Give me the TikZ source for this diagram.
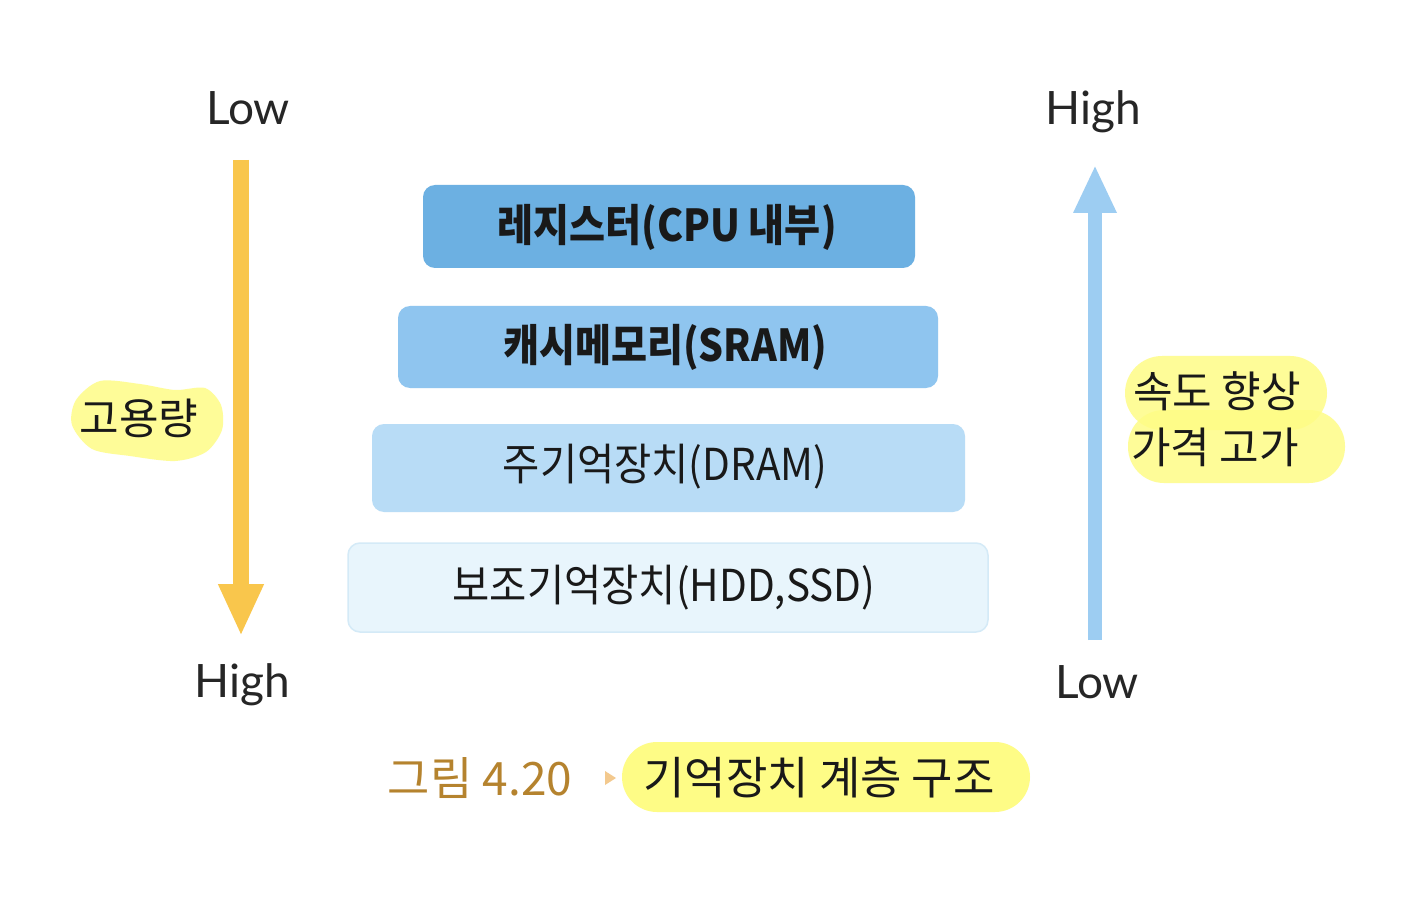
\documentclass[tikz,border=0pt]{standalone}
\usepackage{fontspec}
\usepackage{graphicx}
\usetikzlibrary{arrows.meta}
\newfontfamily\kr{Noto Sans CJK KR}
\newfontfamily\lat{Lato}
\definecolor{boxA}{HTML}{6CB0E2}
\definecolor{boxB}{HTML}{8FC5EF}
\definecolor{boxC}{HTML}{B8DCF6}
\definecolor{boxD}{HTML}{E8F5FC}
\definecolor{boxDline}{HTML}{D4EAF7}
\definecolor{arrowOr}{HTML}{F9C64C}
\definecolor{arrowBl}{HTML}{9DCDF2}
\definecolor{hilite}{HTML}{FEFC86}
\definecolor{capbrown}{HTML}{B5832E}
\definecolor{captri}{HTML}{F3C98E}
\tikzset{
  tier/.style={rounded corners=12pt, inner sep=0pt},
  tiertext/.style={font=\kr\fontsize{44}{50}\selectfont, text=black!90, inner sep=0pt},
  endlabel/.style={font=\lat\fontsize{46}{54}\selectfont, text=black!85, inner sep=0pt, anchor=base},
  hltext/.style={font=\kr\fontsize{43}{50}\selectfont, text=black!90, inner sep=0pt},
  pill/.style={fill=hilite, opacity=0.85},
}
\begin{document}
\begin{tikzpicture}[x=1pt,y=-1pt]
\useasboundingbox (0,0) rectangle (1414,901);
\fill[white] (0,0) rectangle (1414,901);

% tiers
\fill[boxA, tier] (423,185) rectangle (915,268);
\fill[boxB, tier] (398,306) rectangle (938,388);
\fill[boxC, tier] (372,424) rectangle (965,512);
\filldraw[fill=boxD, draw=boxDline, line width=1.5pt, tier] (348,543) rectangle (988,632);

\node[tiertext] (t1) at (667,227) {\scalebox{0.89}[1]{\bfseries 레지스터(CPU 내부)}};
\node[tiertext] (t2) at (665,347) {\scalebox{0.89}[1]{\bfseries 캐시메모리(SRAM)}};
\node[tiertext] (t3) at (665,467) {\scalebox{0.92}[1]{주기억장치(DRAM)}};
\node[tiertext] (t4) at (664,588) {\scalebox{0.92}[1]{보조기억장치(HDD,SSD)}};

% end labels
\node[endlabel] (lowL) at (248,125) {Low};
\node[endlabel] (highL) at (242,697) {High};
\node[endlabel] (highR) at (1093,125) {High};
\node[endlabel] (lowR) at (1097,698) {Low};

% arrows
\coordinate (aLs) at (241,160);
\coordinate (aLe) at (241,636);
\coordinate (aRs) at (1095,640);
\coordinate (aRe) at (1095,165);
\draw[arrowOr, line width=16pt, -{Triangle[width=42pt,length=52pt]}] (aLs) -- (aLe);
\draw[arrowBl, line width=14pt, -{Triangle[width=40pt,length=48pt]}] (aRs) -- (aRe);

% highlights
\fill[pill] plot[smooth cycle] coordinates {(76,400) (100,381) (140,384) (175,390) (205,388) (221,405) (222,430) (206,452) (175,461) (130,456) (92,449) (72,425)};
\node[hltext] (cap) at (139,418) {고용량};

\fill[pill, rounded corners=37pt] (1125,356) rectangle (1327,430);
\fill[pill, rounded corners=36pt] (1128,410) rectangle (1345,483);
\node[hltext] (speed) at (1217,391) {속도 향상};
\node[hltext] (price) at (1215,447) {가격 고가};

% caption
\node[font=\kr\fontsize{46}{52}\selectfont, text=capbrown, inner sep=0pt] (fig) at (480,778) {그림 4.20};
\fill[captri] (605,771) -- (616,778) -- (605,785) -- cycle;
\fill[hilite, rounded corners=35pt] (622,742) rectangle (1030,812);
\node[font=\kr\fontsize{45}{52}\selectfont, text=black!90, inner sep=0pt] (title) at (819,778) {기억장치 계층 구조};
\end{tikzpicture}
\end{document}
